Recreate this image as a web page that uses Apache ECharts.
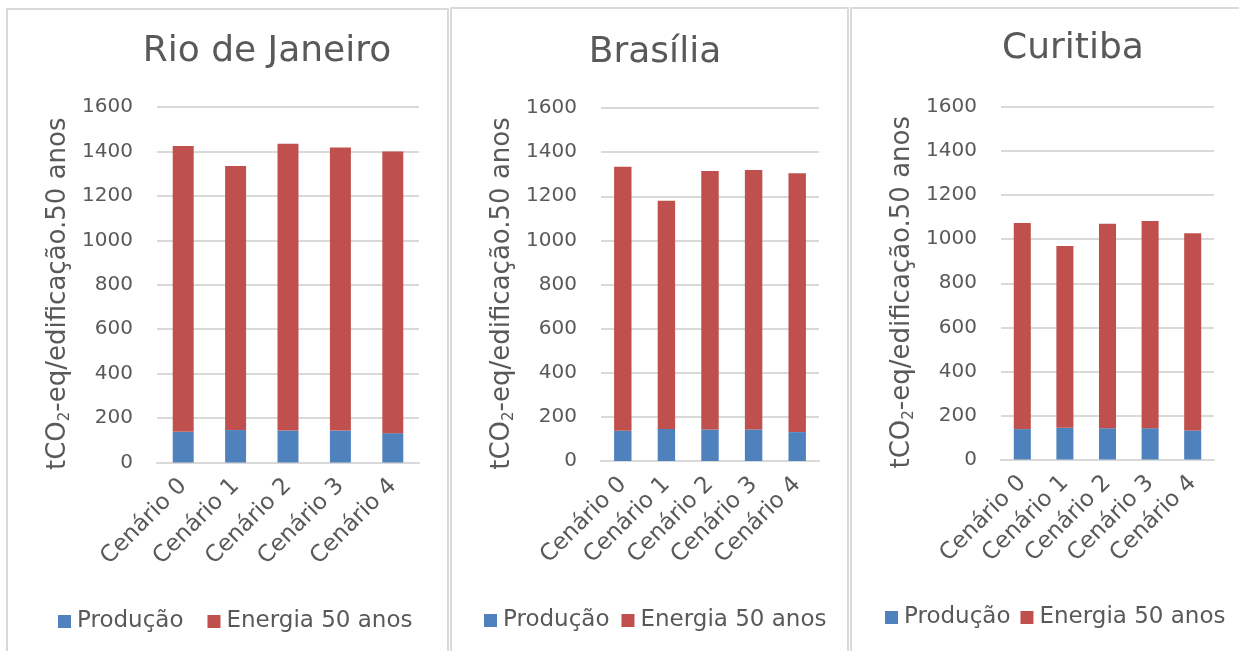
<!DOCTYPE html>
<html>
<head>
<meta charset="utf-8">
<script src="https://cdn.jsdelivr.net/npm/echarts@6/dist/echarts.min.js"></script>
<style>
html,body{margin:0;padding:0;background:#fff;}
#c{width:1239px;height:651px;}
</style>
</head>
<body>
<div id="c"></div>
<script>
const categories = ['Cenário 0', 'Cenário 1', 'Cenário 2', 'Cenário 3', 'Cenário 4'];
const cities = ['Rio de Janeiro', 'Brasília', 'Curitiba'];
const seriesNames = ['Produção', 'Energia 50 anos'];
const rioProducao = [138, 146, 144, 144, 132];
const rioEnergia = [1287, 1189, 1291, 1274, 1268];
const brasiliaProducao = [137, 145, 143, 143, 131];
const brasiliaEnergia = [1197, 1035, 1171, 1176, 1173];
const curitibaProducao = [138, 144, 142, 142, 132];
const curitibaEnergia = [936, 825, 928, 940, 895];
const yTicks = { min: 0, max: 1600, interval: 200 };

const FONT = "'Century Gothic', 'DejaVu Sans', sans-serif";
const GRAY = '#595959';
const BLUE = '#4f81bd';
const RED = '#c0504d';

const prodData = [rioProducao, brasiliaProducao, curitibaProducao];
const enerData = [rioEnergia, brasiliaEnergia, curitibaEnergia];

const grids = [
  { left: 157, top: 107, width: 262, height: 355.5 },
  { left: 601, top: 108, width: 218, height: 353 },
  { left: 1001, top: 107, width: 213, height: 352.5 }
];
const titlePos = [ { x: 262, y: 29 }, { x: 650, y: 30 }, { x: 1068, y: 26 } ];
const legendPos = [ { x: 53, y: 605, gap: 24 }, { x: 479, y: 604, gap: 12 }, { x: 880, y: 601, gap: 10 } ];
const panels = [ { x: 7, y: 9, w: 441 }, { x: 451, y: 8, w: 397 }, { x: 851, y: 8, w: 400 } ];

const option = {
  backgroundColor: '#fff',
  animation: false,
  textStyle: { fontFamily: FONT },
  graphic: panels.map(p => ({
    type: 'rect', shape: { x: p.x, y: p.y, width: p.w, height: 700 },
    style: { fill: 'none', stroke: '#d9d9d9', lineWidth: 2 }, silent: true, z: -1
  })),
  title: cities.map((c, i) => ({
    text: c, left: titlePos[i].x, top: titlePos[i].y, textAlign: 'center',
    textStyle: { fontFamily: FONT, fontSize: 36, fontWeight: 'normal', color: GRAY }
  })),
  legend: cities.map((c, i) => ({
    data: seriesNames.map(n => ({ name: n, icon: 'rect' })),
    left: legendPos[i].x, top: legendPos[i].y, orient: 'horizontal',
    itemWidth: 13, itemHeight: 13, itemGap: legendPos[i].gap,
    textStyle: { fontFamily: FONT, fontSize: 23, color: GRAY, padding: [0, 0, 0, 1] },
    selectedMode: false
  })),
  grid: grids.map(g => Object.assign({ containLabel: false }, g)),
  xAxis: cities.map((c, i) => ({
    type: 'category', gridIndex: i, data: categories,
    axisLine: { show: true, lineStyle: { color: '#d9d9d9', width: 2 } },
    axisTick: { show: false },
    axisLabel: { rotate: 45, margin: 20, fontFamily: FONT, fontSize: 23, color: GRAY, interval: 0 }
  })),
  yAxis: cities.map((c, i) => ({
    type: 'value', gridIndex: i, min: yTicks.min, max: yTicks.max, interval: yTicks.interval,
    axisLine: { show: false }, axisTick: { show: false },
    splitLine: { lineStyle: { color: '#d9d9d9', width: 2 } },
    axisLabel: { margin: 24, fontFamily: FONT, fontSize: 20, color: GRAY, formatter: v => String(v) },
    name: '{a|tCO}{s|2}{a|-eq/edificação.50 anos}',
    nameLocation: 'middle', nameGap: 84, nameRotate: 90,
    nameTextStyle: {
      padding: [0, 18, 0, 0],
      rich: {
        a: { fontFamily: FONT, fontSize: 26, color: GRAY, lineHeight: 30 },
        s: { fontFamily: FONT, fontSize: 15, color: GRAY, lineHeight: 15, verticalAlign: 'bottom' }
      }
    }
  })),
  series: []
};

cities.forEach((c, i) => {
  option.series.push({
    name: seriesNames[0], type: 'bar', stack: 's' + i, xAxisIndex: i, yAxisIndex: i,
    data: prodData[i], barWidth: '40%', itemStyle: { color: BLUE }
  });
  option.series.push({
    name: seriesNames[1], type: 'bar', stack: 's' + i, xAxisIndex: i, yAxisIndex: i,
    data: enerData[i], barWidth: '40%', itemStyle: { color: RED }
  });
});

const chart = echarts.init(document.getElementById('c'), null, { renderer: 'canvas' });
chart.setOption(option);
</script>
</body>
</html>
